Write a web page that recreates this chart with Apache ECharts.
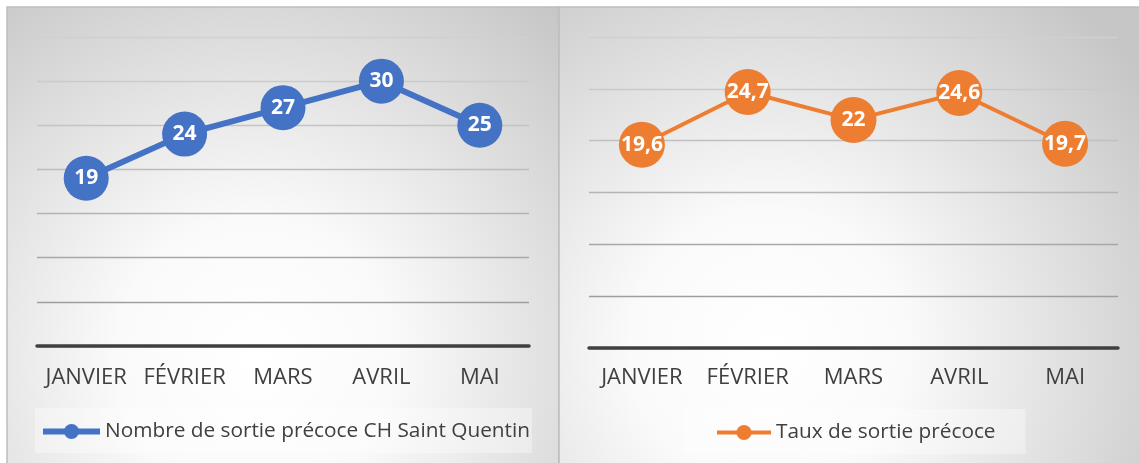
<!DOCTYPE html>
<html>
<head>
<meta charset="utf-8">
<script src="https://cdn.jsdelivr.net/npm/echarts@6/dist/echarts.min.js"></script>
<style>
  html, body { margin: 0; padding: 0; background: #ffffff; }
  #chart { width: 1139px; height: 463px; }
</style>
</head>
<body>
<div id="chart"></div>
<script>
// Months shared by both panels
const months = ['JANVIER', 'FÉVRIER', 'MARS', 'AVRIL', 'MAI'];

// Left panel: number of early discharges
const countName = 'Nombre de sortie précoce CH Saint Quentin';
const countValues = [19, 24, 27, 30, 25];

// Right panel: early discharge rate
const rateName = 'Taux de sortie précoce';
const rateValues = [19.6, 24.7, 22, 24.6, 19.7];

const FONT = '"Open Sans", "DejaVu Sans", sans-serif';
const TEXT = '#404040';

function panelFill(cx, cy) {
  return {
    type: 'radial', x: cx, y: cy, r: 1.0,
    colorStops: [
      { offset: 0, color: '#ffffff' },
      { offset: 0.3, color: '#fafafa' },
      { offset: 1, color: '#c6c6c6' }
    ]
  };
}

const frenchNumber = p => String(p.value).replace('.', ',');

const chart = echarts.init(document.getElementById('chart'), null, { renderer: 'canvas' });

chart.setOption({
  animation: false,
  backgroundColor: '#ffffff',
  textStyle: { fontFamily: FONT },
  graphic: {
    elements: [
      {
        type: 'rect', z: -100, silent: true,
        shape: { x: 7, y: 7, width: 552, height: 460 },
        style: { fill: panelFill(0.45, 0.76), stroke: '#bdbdbd', lineWidth: 1.5 }
      },
      {
        type: 'rect', z: -100, silent: true,
        shape: { x: 559, y: 7, width: 584, height: 460 },
        style: { fill: panelFill(0.36, 0.74), stroke: '#bdbdbd', lineWidth: 1.5 }
      }
    ]
  },
  grid: [
    { left: 37, top: 37, width: 492, height: 309 },
    { left: 589, top: 37, width: 529, height: 311 }
  ],
  xAxis: [
    {
      gridIndex: 0, type: 'category', data: months, boundaryGap: true,
      axisLine: { lineStyle: { color: TEXT, width: 3.5 } },
      axisTick: { show: false },
      axisLabel: { interval: 0, hideOverlap: false, fontSize: 22, color: TEXT, margin: 21, fontFamily: FONT }
    },
    {
      gridIndex: 1, type: 'category', data: months, boundaryGap: true,
      axisLine: { lineStyle: { color: TEXT, width: 3.5 } },
      axisTick: { show: false },
      axisLabel: { interval: 0, hideOverlap: false, fontSize: 22, color: TEXT, margin: 19, fontFamily: FONT }
    }
  ],
  yAxis: [
    {
      gridIndex: 0, type: 'value', min: 0, max: 35, interval: 5,
      axisLabel: { show: false }, axisLine: { show: false }, axisTick: { show: false },
      splitLine: { lineStyle: { width: 1.3, color: ['#999999', '#9e9e9e', '#a8a8a8', '#b3b3b3', '#bcbcbc', '#c4c4c4', '#cbcbcb', '#d0d0d0'] } }
    },
    {
      gridIndex: 1, type: 'value', min: 0, max: 30, interval: 5,
      axisLabel: { show: false }, axisLine: { show: false }, axisTick: { show: false },
      splitLine: { lineStyle: { width: 1.3, color: ['#999999', '#9e9e9e', '#a8a8a8', '#b5b5b5', '#c0c0c0', '#c9c9c9', '#d0d0d0'] } }
    }
  ],
  legend: [
    {
      data: [countName], left: 35, top: 408,
      backgroundColor: 'rgba(255,255,255,0.35)',
      padding: [13, 2, 11, 5],
      itemWidth: 57, itemHeight: 19,
      lineStyle: { width: 6 },
      textStyle: { fontSize: 20.8, color: TEXT, fontFamily: FONT },
      selectedMode: false
    },
    {
      data: [rateName], left: 683, top: 409,
      backgroundColor: 'rgba(255,255,255,0.35)',
      padding: [13, 30, 11, 32],
      itemWidth: 54, itemHeight: 19,
      lineStyle: { width: 4 },
      textStyle: { fontSize: 20.8, color: TEXT, fontFamily: FONT },
      selectedMode: false
    }
  ],
  series: [
    {
      name: countName, type: 'line', xAxisIndex: 0, yAxisIndex: 0,
      data: countValues,
      symbol: 'circle', symbolSize: 45,
      lineStyle: { width: 6, color: '#4472C4' },
      itemStyle: { color: '#4472C4' },
      label: {
        show: true, position: 'inside', formatter: frenchNumber,
        color: '#ffffff', fontWeight: 'bold', fontSize: 21, fontFamily: FONT
      }
    },
    {
      name: rateName, type: 'line', xAxisIndex: 1, yAxisIndex: 1,
      data: rateValues,
      symbol: 'circle', symbolSize: 46,
      lineStyle: { width: 4, color: '#ED7D31' },
      itemStyle: { color: '#ED7D31' },
      label: {
        show: true, position: 'inside', formatter: frenchNumber,
        color: '#ffffff', fontWeight: 'bold', fontSize: 21, fontFamily: FONT
      }
    }
  ]
});
</script>
</body>
</html>
